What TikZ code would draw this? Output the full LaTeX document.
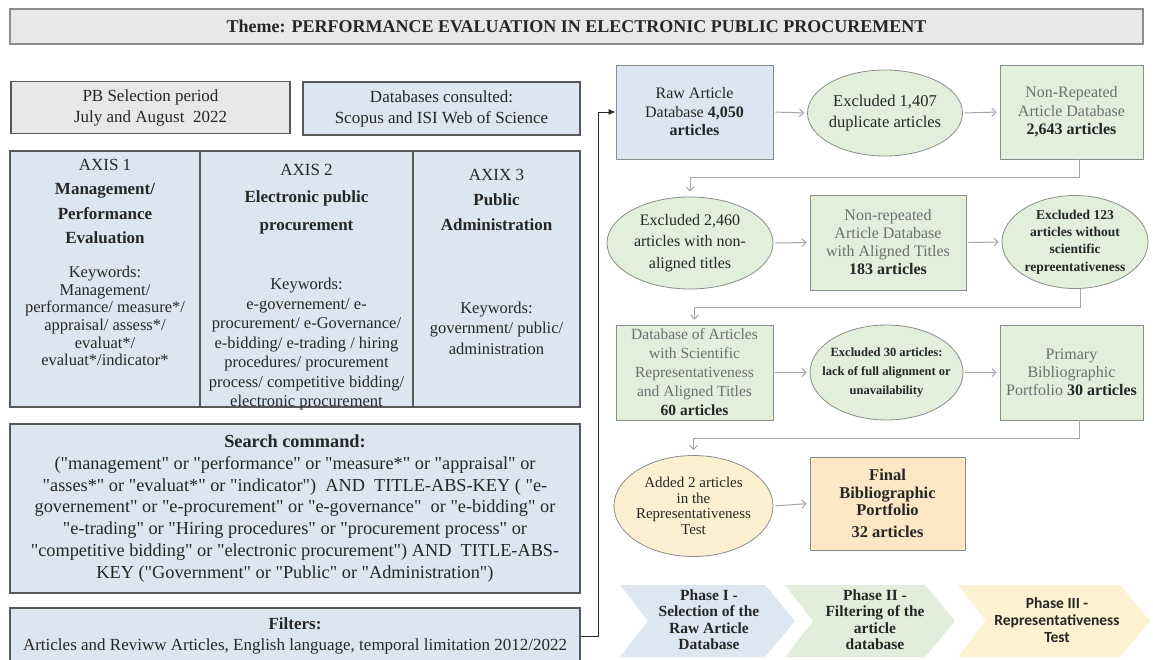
\documentclass[tikz,border=0pt]{standalone}
\usepackage{fontspec}
\setmainfont{Liberation Serif}
\newfontfamily\calibfont{Carlito}
\usetikzlibrary{arrows.meta,shapes.geometric}
\definecolor{bluefill}{HTML}{DCE6F2}
\definecolor{greenfill}{HTML}{E2EFDA}
\definecolor{yellowfill}{HTML}{FDF0D0}
\definecolor{peachfill}{HTML}{FCE8C4}
\definecolor{grayfill}{HTML}{E8E8E8}
\definecolor{edgedark}{HTML}{595959}
\definecolor{edgegray}{HTML}{8C8C8C}
\definecolor{conngray}{HTML}{A6A6A6}
\definecolor{txtgray}{HTML}{6E6E6E}
\definecolor{txt}{HTML}{262626}
\definecolor{chA}{HTML}{DDE7F3}
\definecolor{chB}{HTML}{E2EEDA}
\definecolor{chC}{HTML}{FDF1CF}
\newcommand{\fsz}[2]{\fontsize{#1}{#2}\selectfont}
\newcommand{\q}{\textquotedbl}
\newcommand{\gr}[1]{\textcolor{txtgray}{#1}}
\begin{document}
\begin{tikzpicture}[x=1pt,y=-1pt,
  lbox/.style={draw=edgedark,line width=1.2pt,inner sep=0pt,align=center,text=txt},
  fbox/.style={draw=edgegray,line width=0.8pt,inner sep=0pt,align=center,text=txt,font=\fsz{16}{18.5}},
  fell/.style={ellipse,draw=edgegray,line width=0.8pt,inner sep=0pt,fill=greenfill},
  etxt/.style={align=center,text=txt,inner sep=0pt},
  conn/.style={draw=conngray,line width=1pt,-{Straight Barb[length=4pt,width=8pt]},shorten >=3pt,shorten <=2pt},
  feed/.style={draw=black!85,line width=1pt,-{Latex[length=7pt,width=6pt]}},
  chtxt/.style={align=center,text=txt,inner sep=0pt,font=\bfseries\fsz{15.5}{16.5}}
]
\useasboundingbox (0,0) rectangle (1153,659);
\clip (0,0) rectangle (1153,659);
\fill[white] (0,0) rectangle (1153,659);

% ---------- left column ----------
\node[lbox,draw=edgegray,fill=grayfill,minimum width=1133,minimum height=35] (theme) at (576.5,26.5)
  {\bfseries\fsz{18}{20}Theme: PERFORMANCE EVALUATION IN ELECTRONIC PUBLIC PROCUREMENT};
\node[lbox,fill=grayfill,minimum width=279,minimum height=52,font=\fsz{17}{21}] (period) at (150.5,107.5)
  {PB Selection period\\July and August~~2022};
\node[lbox,fill=bluefill,minimum width=277,minimum height=53,font=\fsz{17}{21}] (dbs) at (441.5,108.5)
  {Databases consulted:\\Scopus and ISI Web of Science};

\node[lbox,fill=bluefill,minimum width=190,minimum height=256] (ax1) at (105,279) {};
\node[lbox,fill=bluefill,minimum width=213,minimum height=256] (ax2) at (306.5,279) {};
\node[lbox,fill=bluefill,minimum width=167,minimum height=256] (ax3) at (496.5,279) {};

\node[etxt,font=\fsz{17}{24.3}] (ax1h) at (105,201.5) {AXIS 1\\\bfseries Management/\\\bfseries Performance\\\bfseries Evaluation};
\node[etxt,font=\fsz{16.5}{17.6}] (ax1k) at (105,316) {Keywords:\\Management/\\performance/ measure*/\\appraisal/ assess*/\\evaluat*/\\evaluat*/indicator*};
\node[etxt,font=\fsz{17}{27.5}] (ax2h) at (306.5,199) {AXIS 2\\\bfseries Electronic public\\\bfseries procurement};
\node[etxt,font=\fsz{16.5}{19.5}] (ax2k) at (306.5,344.5) {Keywords:\\e-governement/ e-\\procurement/ e-Governance/\\e-bidding/ e-trading / hiring\\procedures/ procurement\\process/ competitive bidding/\\electronic procurement};
\node[etxt,font=\fsz{17}{25}] (ax3h) at (496.5,200) {AXIX 3\\\bfseries Public\\\bfseries Administration};
\node[etxt,font=\fsz{16.5}{20.5}] (ax3k) at (496.5,328) {Keywords:\\government/ public/\\administration};

\node[lbox,fill=bluefill,minimum width=570,minimum height=169,font=\fsz{18.3}{21.8}] (search) at (295,508.5)
  {\textbf{Search command:}\\
  (\q management\q{} or \q performance\q{} or \q measure*\q{} or \q appraisal\q{} or\\
  \q asses*\q{} or \q evaluat*\q{} or \q indicator\q)~ AND~ TITLE-ABS-KEY ( \q e-\\
  governement\q{} or \q e-procurement\q{} or \q e-governance\q~ or \q e-bidding\q{} or\\
  \q e-trading\q{} or \q Hiring procedures\q{} or \q procurement process\q{} or\\
  \q competitive bidding\q{} or \q electronic procurement\q) AND~ TITLE-ABS-\\
  KEY (\q Government\q{} or \q Public\q{} or \q Administration\q)};

\node[lbox,fill=bluefill,minimum width=570,minimum height=56,font=\fsz{17}{20.5}] (filters) at (295,636)
  {\textbf{Filters:}\\Articles and Reviww Articles, English language, temporal limitation 2012/2022};

% ---------- flow ----------
\node[fbox,fill=bluefill,minimum width=157,minimum height=94] (raw) at (694.5,112)
  {Raw Article\\Database \textbf{4,050}\\\textbf{articles}};
\node[fell,minimum width=155,minimum height=86] (ex1) at (885,113) {};
\node[etxt,font=\fsz{16.5}{21}] (ex1t) at (ex1) {Excluded 1,407\\duplicate articles};
\node[fbox,fill=greenfill,minimum width=143,minimum height=94] (nonrep) at (1071.5,112)
  {\gr{Non-Repeated}\\\gr{Article Database}\\\textbf{2,643 articles}};

\node[fell,minimum width=166,minimum height=92] (ex2) at (690,243) {};
\node[etxt,font=\fsz{16}{21.5}] (ex2t) at (ex2) {Excluded 2,460\\articles with non-\\aligned titles};
\node[fbox,fill=greenfill,minimum width=156,minimum height=95,font=\fsz{16}{18}] (aligned) at (888,242.5)
  {\gr{Non-repeated}\\\gr{Article Database}\\\gr{with Aligned Titles}\\\textbf{183 articles}};
\node[fell,minimum width=146,minimum height=93] (ex3) at (1075,242) {};
\node[etxt,font=\bfseries\fsz{13.5}{17.3}] (ex3t) at (ex3) {Excluded 123\\articles without\\scientific\\repreentativeness};

\node[fbox,fill=greenfill,minimum width=157,minimum height=95,font=\fsz{15.5}{19}] (sci) at (694.5,372.5)
  {\gr{Database of Articles}\\\gr{with Scientific}\\\gr{Representativeness}\\\gr{and Aligned Titles}\\\textbf{60 articles}};
\node[fell,minimum width=153,minimum height=95] (ex4) at (886.5,372.5) {};
\node[etxt,font=\bfseries\fsz{12.5}{19}] (ex4t) at (ex4) {Excluded 30 articles:\\lack of full alignment or\\unavailability};
\node[fbox,fill=greenfill,minimum width=143,minimum height=95,font=\fsz{16}{18}] (primary) at (1071.5,372.5)
  {\gr{Primary}\\\gr{Bibliographic}\\\gr{Portfolio} \textbf{30 articles}};

\node[fell,fill=yellowfill,minimum width=159,minimum height=101] (added) at (693.5,506) {};
\node[etxt,font=\fsz{15}{15.5}] (addedt) at (added) {Added 2 articles\\in the\\Representativeness\\Test};
\node[fbox,fill=peachfill,minimum width=155,minimum height=93,font=\bfseries\fsz{16.5}{17.5}] (final) at (887.5,503.5)
  {Final\\Bibliographic\\Portfolio\\[4pt]32 articles};

% connectors
\draw[feed] (filters.east) -- ++(18,0) |- (raw.west);
\draw[conn] (raw.east) -- (ex1.west);
\draw[conn] (ex1.east) -- (nonrep.west);
\draw[conn,shorten >=5pt,shorten <=0pt] ([xshift=8]nonrep.south) -- ++(0,18) -| (ex2.north);
\draw[conn] (ex2.east) -- (aligned.west);
\draw[conn] (aligned.east) -- (ex3.west);
\draw[conn,shorten >=5pt,shorten <=0pt] ([xshift=5]ex3.south) -- ++(0,19) -| (sci.north);
\draw[conn] (sci.east) -- (ex4.west);
\draw[conn] (ex4.east) -- (primary.west);
\draw[conn,shorten >=5pt,shorten <=0pt] ([xshift=8]primary.south) -- ++(0,18) -| (added.north);
\draw[conn] (added.east) -- (final.west);

% ---------- phases ----------
\fill[chA] (620,585) -- (765,585) -- (795,621) -- (765,657) -- (620,657) -- (648,621) -- cycle;
\fill[chB] (785,585) -- (925,585) -- (955,621) -- (925,657) -- (785,657) -- (813,621) -- cycle;
\fill[chC] (958,585) -- (1120,585) -- (1150,621) -- (1120,657) -- (958,657) -- (986,621) -- cycle;
\node[chtxt] (ph1) at (709,619.5) {Phase I -\\Selection of the\\Raw Article\\Database};
\node[chtxt] (ph2) at (875,619.5) {Phase II -\\Filtering of the\\article\\database};
\node[chtxt,font=\calibfont\bfseries\fsz{15.5}{17}] (ph3) at (1057,620) {Phase III -\\Representativeness\\Test};
\end{tikzpicture}
\end{document}
